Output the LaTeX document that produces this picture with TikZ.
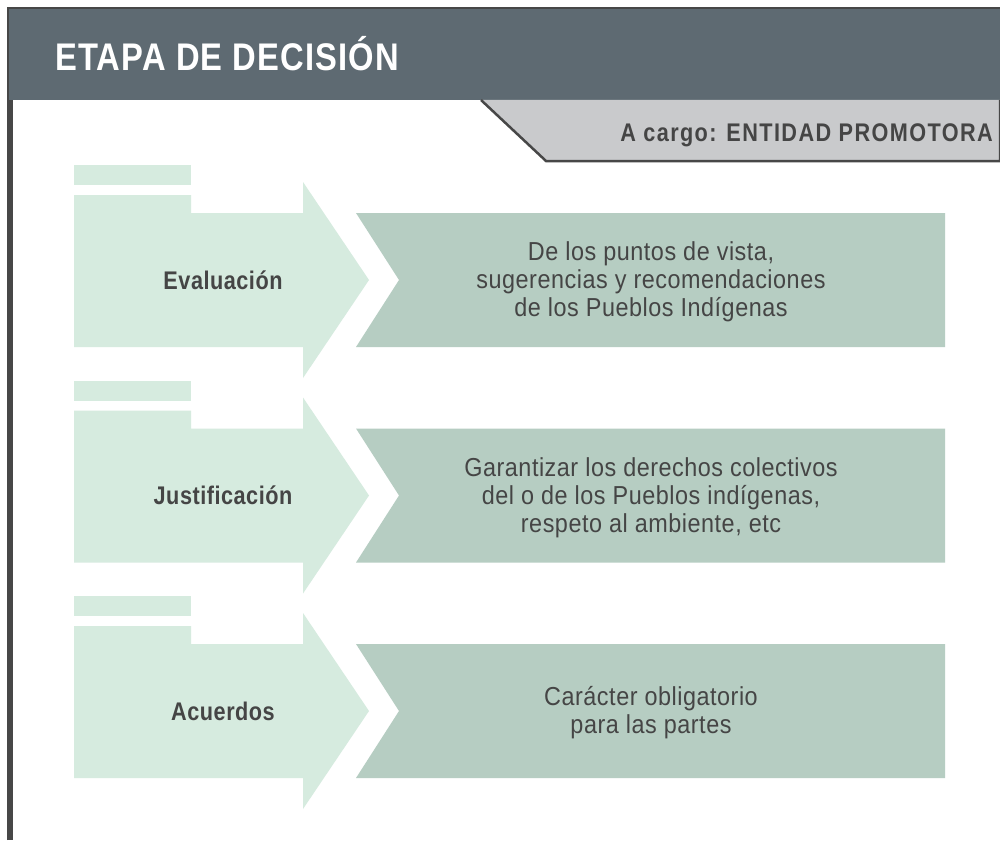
\documentclass[tikz,border=0pt]{standalone}
\usepackage{fontspec}
\setmainfont{Liberation Sans}
\newfontfamily\headsans[FakeStretch=0.85]{Liberation Sans}
\newfontfamily\bodysans[FakeStretch=0.9]{Liberation Sans}
\usepackage{xcolor}
\usetikzlibrary{positioning}

\definecolor{headgray}{HTML}{5E6A72}
\definecolor{framegray}{HTML}{474747}
\definecolor{tabgray}{HTML}{C9CACC}
\definecolor{inkgray}{HTML}{454545}
\definecolor{palegreen}{HTML}{D6EBDF}
\definecolor{sagegreen}{HTML}{B6CDC2}

\tikzset{
  titletext/.style={text=white, inner sep=0, anchor=base west,
    font=\headsans\bfseries\addfontfeatures{LetterSpace=3}\fontsize{38.5}{44}\selectfont},
  tabtext/.style={text=inkgray, inner sep=0, anchor=base east,
    font=\headsans\bfseries\addfontfeatures{LetterSpace=5.5}\fontsize{25.5}{30}\selectfont},
  steplabel/.style={text=inkgray, inner sep=0,
    font=\headsans\bfseries\addfontfeatures{LetterSpace=2}\fontsize{25.5}{30}\selectfont},
  steptext/.style={text=inkgray, inner sep=0, align=center,
    font=\bodysans\addfontfeatures{LetterSpace=2}\fontsize{26}{28}\selectfont}
}

\begin{document}
\begin{tikzpicture}[x=1pt,y=-1pt]
    \useasboundingbox (0,0) rectangle (1000,840);
    \fill[white] (0,0) rectangle (1000,840);

    % Header band and frame
    \fill[headgray] (8,8) rectangle (1000,100);
    \draw[framegray, line width=2.6] (8,840) -- (8,8) -- (1000,8);
    \fill[framegray] (7,100) rectangle (13,840);

    % Tab under the header
    \fill[tabgray] (481,100) -- (1000,100) -- (1000,161) -- (546,161) -- cycle;
    \draw[framegray, line width=2.5] (481,100) -- (546,161) -- (1000,161) -- (1000,100);

    \node[titletext] (title) at (55,71) {ETAPA DE DECISIÓN};
    \node[tabtext] (cargo) at (993,141) {A cargo: ENTIDAD PROMOTORA};

    % Arrows and boxes
    \foreach \t in {165,380.5,596} {
        \fill[palegreen] (74,\t) rectangle (191,\t+20);
        \fill[palegreen] (74,\t+30) -- (191,\t+30) -- (191,\t+48) -- (303,\t+48)
            -- (303,\t+17) -- (369,\t+115) -- (303,\t+213) -- (303,\t+182)
            -- (74,\t+182) -- cycle;
        \fill[sagegreen] (356,\t+48) -- (945,\t+48) -- (945,\t+182)
            -- (356,\t+182) -- (399,\t+115) -- cycle;
    }

    % Step labels
    \node[steplabel] (evaluacion) at (223,280) {Evaluación};
    \node[steplabel] (justificacion) at (223,495.5) {Justificación};
    \node[steplabel] (acuerdos) at (223,711) {Acuerdos};

    % Step texts
    \node[steptext] (puntos) at (651,282) {De los puntos de vista,\\sugerencias y recomendaciones\\de los Pueblos Indígenas};
    \node[steptext] (derechos) at (651,497.5) {Garantizar los derechos colectivos\\del o de los Pueblos indígenas,\\respeto al ambiente, etc};
    \node[steptext] (caracter) at (651,713) {Carácter obligatorio\\para las partes};
\end{tikzpicture}
\end{document}
